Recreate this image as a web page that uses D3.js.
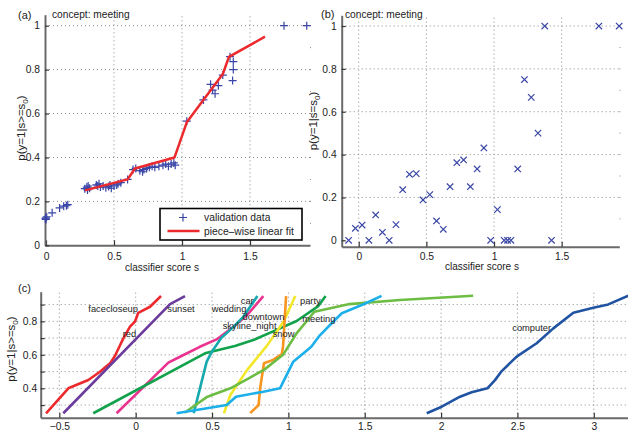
<!DOCTYPE html>
<html><head><meta charset="utf-8">
<script src="https://cdn.jsdelivr.net/npm/d3@7"></script>
<style>
body{margin:0;background:#fff}
svg{display:block}
text{font-family:"Liberation Sans",Arial,sans-serif;fill:#222}
</style>
</head><body>
<svg id="chart" width="628" height="435"></svg>
<script>
// ---------- Panel (a) data ----------
const aValidX = [-0.005,0.0,0.005,0.0,0.045,0.10,0.13,0.15,0.16,
  0.285,0.30,0.31,0.305,0.32,0.37,0.38,0.39,0.40,0.42,0.44,0.46,0.47,0.48,0.50,0.52,0.53,0.55,
  0.60,
  0.64,0.66,0.69,0.71,0.72,0.74,0.76,0.78,0.80,0.83,0.86,0.88,0.90,0.92,0.94,0.95,
  1.035,1.157,1.21,1.225,1.243,1.267,1.30,1.353,1.377,1.377,1.372,1.75,1.917];
const aValidY = [0.12,0.125,0.13,0.118,0.148,0.17,0.178,0.18,0.185,
  0.258,0.265,0.27,0.252,0.26,0.275,0.27,0.28,0.265,0.27,0.262,0.268,0.275,0.26,0.27,0.275,0.28,0.285,
  0.30,
  0.345,0.35,0.34,0.335,0.345,0.35,0.355,0.36,0.355,0.36,0.365,0.37,0.36,0.37,0.375,0.365,
  0.565,0.662,0.733,0.707,0.69,0.727,0.775,0.859,0.836,0.80,0.75,1.0,1.0];
const aFitX = [0.287,0.60,0.654,0.945,1.035,1.157,1.30,1.345,1.61];
const aFitY = [0.25,0.30,0.35,0.40,0.56,0.662,0.78,0.858,0.95];
const aXTicks = [0,0.5,1,1.5];
const aYTicks = [0,0.2,0.4,0.6,0.8,1];

// ---------- Panel (b) data ----------
const bX = [-0.075,-0.025,0.025,0.075,0.125,0.175,0.225,0.275,0.325,0.375,0.425,0.475,0.525,0.575,0.625,
  0.675,0.725,0.775,0.825,0.875,0.925,0.975,1.025,1.075,1.10,1.125,1.175,1.225,1.275,1.325,1.375,1.425,1.775,1.925];
const bY = [0,0.056,0.071,0,0.118,0.037,0,0.073,0.236,0.308,0.311,0.188,0.213,0.09,0.051,
  0.25,0.362,0.375,0.25,0.333,0.431,0,0.143,0,0,0,0.333,0.75,0.667,0.5,1,0,1,1];
const bXTicks = [0,0.5,1,1.5];
const bYTicks = [0,0.2,0.4,0.6,0.8,1];

// ---------- Panel (c) data ----------
const cRed = [[-0.587,0.251],[-0.441,0.40],[-0.31,0.45],[-0.234,0.499],[-0.168,0.549],[-0.136,0.593],[-0.107,0.648],[-0.081,0.698],[-0.037,0.768],[-0.005,0.798],[0.017,0.851],[0.094,0.887],[0.166,0.951]];
const cPurple = [[-0.474,0.251],[0.225,0.903],[0.323,0.951]];
const cPink = [[-0.125,0.251],[0.214,0.553],[0.30,0.593],[0.42,0.648],[0.53,0.692],[0.64,0.768],[0.73,0.838],[0.836,0.951]];
const cDarkGreen = [[-0.278,0.251],[0.454,0.609],[0.65,0.653],[0.77,0.688],[0.945,0.758],[1.054,0.802],[1.196,0.891],[1.244,0.951]];
const cTeal = [[0.38,0.252],[0.465,0.559],[0.50,0.62],[0.56,0.70],[0.63,0.758],[0.705,0.827],[0.797,0.951]];
const cYellow = [[0.578,0.251],[0.62,0.36],[0.73,0.51],[0.86,0.655],[0.97,0.80],[1.045,0.951]];
const cOrange = [[0.75,0.252],[0.805,0.30],[0.815,0.40],[0.84,0.55],[0.90,0.57],[0.957,0.605],[0.965,0.65],[0.985,0.951]];
const cLightGreen = [[0.32,0.254],[0.47,0.35],[0.62,0.40],[0.74,0.46],[0.84,0.51],[0.965,0.60],[1.055,0.73],[1.17,0.857],[1.40,0.903],[1.73,0.927],[2.21,0.953]];
const cLightBlue = [[0.268,0.251],[0.596,0.30],[0.657,0.35],[0.836,0.38],[0.945,0.40],[1.032,0.559],[1.15,0.648],[1.20,0.71],[1.285,0.79],[1.35,0.848],[1.50,0.905],[1.61,0.952]];
const cDarkBlue = [[1.906,0.251],[2.004,0.29],[2.124,0.35],[2.20,0.376],[2.303,0.40],[2.353,0.449],[2.397,0.503],[2.495,0.589],[2.626,0.669],[2.735,0.758],[2.866,0.851],[2.997,0.881],[3.095,0.901],[3.226,0.953]];
const cLabelText = ["facecloseup","red","sunset","wedding","car","downtown","skyline_night","snow","party","meeting","computer"];
const cLabelX = [-0.31,-0.085,0.207,0.498,0.688,0.70,0.57,0.897,1.076,1.091,2.466];
const cLabelY = [0.853,0.704,0.854,0.854,0.901,0.807,0.752,0.704,0.901,0.798,0.744];
const cXTicks = [-0.5,0,0.5,1,1.5,2,2.5,3];
const cYTicks = [0.3,0.4,0.5,0.6,0.7,0.8,0.9];

const svg = d3.select("#chart");
const fmt = d3.format("~g");
const AX = "#6a6a6a";

function grid(g, x, y, xt, yt) {
  const [x0,x1] = x.range(), [y0,y1] = y.range();
  g.selectAll(null).data(xt).join("line")
    .attr("x1", d=>x(d)).attr("x2", d=>x(d)).attr("y1", y0).attr("y2", y1)
    .attr("stroke","#8a8a8a").attr("stroke-width",1).attr("stroke-dasharray","1,3");
  g.selectAll(null).data(yt).join("line")
    .attr("y1", d=>y(d)).attr("y2", d=>y(d)).attr("x1", x0).attr("x2", x1)
    .attr("stroke","#8a8a8a").attr("stroke-width",1).attr("stroke-dasharray","1,3");
}
function axes(g, x, y, xt, yt, xpad, ypad, yfmt) {
  const [y0] = y.range(), [x0] = x.range();
  const ax = g.append("g").attr("transform",`translate(0,${y0})`)
    .call(d3.axisBottom(x).tickValues(xt).tickSizeInner(-5).tickSizeOuter(0).tickPadding(xpad).tickFormat(fmt));
  const ay = g.append("g").attr("transform",`translate(${x0},0)`)
    .call(d3.axisLeft(y).tickValues(yt).tickSizeInner(-4).tickSizeOuter(0).tickPadding(ypad).tickFormat(yfmt||fmt));
  [ax,ay].forEach(a=>{
    a.select(".domain").attr("stroke",AX).attr("stroke-width",2);
    a.selectAll(".tick line").attr("stroke","#333").attr("stroke-width",1.2);
    a.selectAll(".tick text").attr("font-size",10.3).attr("fill","#222")
      .attr("font-family",'"Liberation Sans",Arial,sans-serif');
  });
}
function ylabel(g, x, y, main) {
  const t = g.append("text").attr("transform",`translate(${x},${y}) rotate(-90)`)
    .attr("text-anchor","middle").attr("font-size",11.5);
  t.append("tspan").text(main);
  t.append("tspan").attr("font-size",8).attr("dy",2.8).text("0");
  t.append("tspan").attr("dy",-2.8).text(")");
}

// ---------- Panel (a) ----------
const xA = d3.scaleLinear().domain([-0.0074,1.941]).range([45,310]);
const yA = d3.scaleLinear().domain([0,1.05]).range([245.3,14.7]);
const gA = svg.append("g");
grid(gA, xA, yA, aXTicks.slice(1), aYTicks.slice(1));
gA.selectAll(null).data(d3.range(1,11)).join("rect")
  .attr("x",310).attr("y",d=>yA(d/10)-0.5).attr("width",1).attr("height",1).attr("fill","#8a8a8a");
axes(gA, xA, yA, aXTicks, aYTicks, 7, 5);
const aPts = aValidX.map((d,i)=>[d,aValidY[i]]);
gA.selectAll(null).data(aPts).join("path")
  .attr("transform",d=>`translate(${xA(d[0])},${yA(d[1])})`)
  .attr("d","M-4,0H4M0,-4V4").attr("stroke","#3a46a6").attr("stroke-width",1.2).attr("fill","none");
gA.append("path").datum(aFitX.map((d,i)=>[d,aFitY[i]]))
  .attr("d", d3.line().x(d=>xA(d[0])).y(d=>yA(d[1])))
  .attr("fill","none").attr("stroke","#ec2a2e").attr("stroke-width",2.5).attr("stroke-linejoin","round");
gA.append("text").attr("x",18).attr("y",19).attr("font-size",11).text("(a)");
gA.append("text").attr("x",52).attr("y",18).attr("font-size",10.2).text("concept: meeting");
gA.append("text").attr("x",162).attr("y",271).attr("text-anchor","middle").attr("font-size",10).text("classifier score s");
ylabel(gA, 25, 128, "p(y=1|s>=s");
// legend
const lg = gA.append("g");
lg.append("rect").attr("x",160).attr("y",208.5).attr("width",142).attr("height",31.5)
  .attr("fill","#fff").attr("stroke","#000").attr("stroke-width",1.6);
lg.append("path").attr("transform","translate(183,217.5)").attr("d","M-4,0H4M0,-4V4")
  .attr("stroke","#3a46a6").attr("stroke-width",1.2);
lg.append("line").attr("x1",167.5).attr("x2",199.5).attr("y1",231).attr("y2",231)
  .attr("stroke","#ec2a2e").attr("stroke-width",2.5);
lg.append("text").attr("x",204).attr("y",221).attr("font-size",10.3).text("validation data");
lg.append("text").attr("x",204).attr("y",234.5).attr("font-size",10.3).text("piece–wise linear fit");

// ---------- Panel (b) ----------
const xB = d3.scaleLinear().domain([-0.126,1.926]).range([341.7,619.3]);
const yB = d3.scaleLinear().domain([-0.03,1.05]).range([246.7,15.3]);
const gB = svg.append("g");
grid(gB, xB, yB, bXTicks, bYTicks.slice(1));
gB.selectAll(null).data(d3.range(1,11)).join("rect")
  .attr("x",619.5).attr("y",d=>yB(d/10)-0.5).attr("width",1).attr("height",1).attr("fill","#8a8a8a");
axes(gB, xB, yB, bXTicks, bYTicks, 6, 5);
const bPts = bX.map((d,i)=>[d,bY[i]]);
gB.selectAll(null).data(bPts).join("path")
  .attr("transform",d=>`translate(${xB(d[0])},${yB(d[1])})`)
  .attr("d","M-3.2,-3.2L3.2,3.2M-3.2,3.2L3.2,-3.2").attr("stroke","#3a46a6").attr("stroke-width",1.2).attr("fill","none");
gB.append("text").attr("x",321).attr("y",18).attr("font-size",11).text("(b)");
gB.append("text").attr("x",345).attr("y",17.5).attr("font-size",10.2).text("concept: meeting");
gB.append("text").attr("x",482).attr("y",270).attr("text-anchor","middle").attr("font-size",10).text("classifier score s");
ylabel(gB, 317, 121, "p(y=1|s=s");

// ---------- Panel (c) ----------
const xC = d3.scaleLinear().domain([-0.622,3.224]).range([40.7,628]);
const yC = d3.scaleLinear().domain([0.2245,0.977]).range([417.7,291.7]);
const gC = svg.append("g");
grid(gC, xC, yC, cXTicks, cYTicks);
const cSeries = [
  [cRed,"#ec2a2e"],[cPurple,"#6b3c9b"],[cPink,"#e9338f"],[cDarkGreen,"#12a24c"],
  [cTeal,"#17a9ad"],[cYellow,"#f2e829"],[cOrange,"#f7951e"],[cLightGreen,"#6dbd45"],
  [cLightBlue,"#1cafea"],[cDarkBlue,"#2153a3"]
];
const lineC = d3.line().x(d=>xC(d[0])).y(d=>yC(d[1]));
gC.selectAll(null).data(cSeries).join("path")
  .attr("d", d=>lineC(d[0])).attr("stroke", d=>d[1])
  .attr("fill","none").attr("stroke-width",2.6).attr("stroke-linejoin","round");
axes(gC, xC, yC, cXTicks, cYTicks, 5, 3.5, d=>(Math.round(d*10)%2===0?fmt(d):""));
gC.selectAll(null).data(cLabelText).join("text")
  .attr("x",(d,i)=>xC(cLabelX[i])).attr("y",(d,i)=>yC(cLabelY[i]))
  .attr("font-size",9.3).attr("fill","#222").text(d=>d);
gC.append("text").attr("x",18).attr("y",292).attr("font-size",11).text("(c)");
ylabel(gC, 15, 349, "p(y=1|s>=s");
</script>
</body></html>
